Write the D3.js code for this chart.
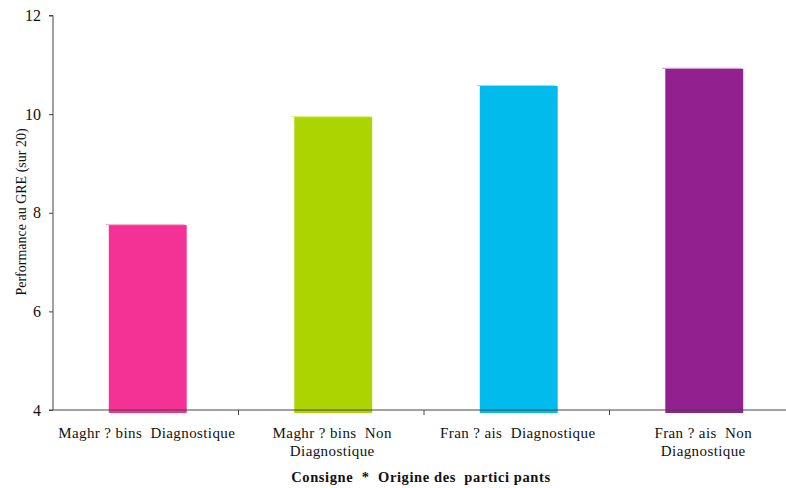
<!DOCTYPE html>
<html>
<head>
<meta charset="utf-8">
<script src="https://cdn.jsdelivr.net/npm/d3@7"></script>
<style>
  html, body { margin: 0; padding: 0; background: #fff; }
  svg { display: block; }
</style>
</head>
<body>
<svg id="chart" width="786" height="488"></svg>
<script>
// Mean GRE performance (out of 20) by instruction and participant origin
const categories = [
  ["Maghr ? bins  Diagnostique"],
  ["Maghr ? bins  Non", "Diagnostique"],
  ["Fran ? ais  Diagnostique"],
  ["Fran ? ais  Non", "Diagnostique"]
];
const values = [7.75, 9.94, 10.57, 10.92];
const colors = ["#F43195", "#ABD401", "#00BBEC", "#92208F"];
const capColors = ["#F9A6CF", "#D8EE7E", "#8BE0F7", "#C98FC6"];
const yTicks = [4, 6, 8, 10, 12];
const yTitle = "Performance au GRE (sur 20)";
const xTitle = "Consigne  *  Origine des  partici pants";

// pick the first installed serif face
function pickFont(list) {
  const ctx = document.createElement("canvas").getContext("2d");
  const sample = "Maghr bins Diagnostique 0123456789";
  ctx.font = "40px monospace";
  const base = ctx.measureText(sample).width;
  for (const f of list) {
    ctx.font = `40px "${f}", monospace`;
    if (Math.abs(ctx.measureText(sample).width - base) > 0.5) return `"${f}"`;
  }
  return "serif";
}
const serif = pickFont(["Liberation Serif", "Times New Roman", "Tinos", "DejaVu Serif", "Noto Serif"]) + ", serif";

const svg = d3.select("#chart")
  .attr("font-family", serif)
  .style("font-family", serif);
const left = 53, bottom = 410;

const x = d3.scaleBand()
  .domain(d3.range(categories.length))
  .range([left, 795])
  .paddingInner(0.58)
  .paddingOuter(0.29);

const y = d3.scaleLinear().domain([4, 12]).range([bottom, 15.5]);

// Bars
const bars = svg.append("g");
bars.selectAll("rect")
  .data(values)
  .join("rect")
  .attr("x", (d, i) => x(i) + 2)
  .attr("y", d => y(d))
  .attr("width", x.bandwidth())
  .attr("height", d => y(4) - y(d) + 3)
  .attr("fill", (d, i) => colors[i]);

// thin cap line on top of each bar
bars.selectAll("line")
  .data(values)
  .join("line")
  .attr("x1", (d, i) => x(i) - 1)
  .attr("x2", (d, i) => x(i) + x.bandwidth())
  .attr("y1", d => y(d) - 0.5)
  .attr("y2", d => y(d) - 0.5)
  .attr("stroke", (d, i) => capColors[i])
  .attr("stroke-width", 1);

// Y axis
const yAxis = svg.append("g")
  .attr("transform", `translate(${left},0)`)
  .call(d3.axisLeft(y).tickValues(yTicks).tickSize(4).tickPadding(8).tickFormat(d3.format("d")));
yAxis.attr("font-family", serif);
yAxis.select(".domain").attr("stroke", "#444").attr("d", `M-4,${y(12)}H0V${bottom}`);
yAxis.selectAll(".tick line").attr("stroke", "#444");
yAxis.selectAll(".tick text")
  .attr("font-family", serif)
  .style("font-family", serif)
  .style("font-size", "16px")
  .attr("fill", "#111");

// X axis
const xAxis = svg.append("g").attr("transform", `translate(0,${bottom})`);
xAxis.append("line")
  .attr("x1", left - 4).attr("x2", 786)
  .attr("y1", 0).attr("y2", 0)
  .attr("stroke", "#444");
const boundaries = d3.range(categories.length).map(i => x(i) - x.step() * x.paddingInner() / 2);
xAxis.selectAll(".xtick")
  .data(boundaries.slice(1))
  .join("line")
  .attr("x1", d => d).attr("x2", d => d)
  .attr("y1", 0).attr("y2", 5)
  .attr("stroke", "#444");

const labels = svg.append("g");
categories.forEach((lines, i) => {
  const cx = x(i) + x.bandwidth() / 2 + 1;
  const t = labels.append("text")
    .attr("x", cx)
    .attr("y", 438)
    .attr("text-anchor", "middle")
    .attr("fill", "#111")
    .style("font-family", serif)
    .style("font-size", "15px")
    .style("letter-spacing", "0.4px")
    .style("white-space", "pre");
  lines.forEach((ln, j) => {
    t.append("tspan")
      .attr("x", cx)
      .attr("dy", j === 0 ? 0 : 18)
      .text(ln);
  });
});

// Axis titles
svg.append("text")
  .attr("transform", `translate(26,${212}) rotate(-90)`)
  .attr("text-anchor", "middle")
  .attr("fill", "#111")
  .style("font-family", serif)
  .style("font-size", "14px")
  .text(yTitle);

svg.append("text")
  .attr("x", 421)
  .attr("y", 482)
  .attr("text-anchor", "middle")
  .attr("fill", "#111")
  .style("font-family", serif)
  .style("font-size", "14.5px")
  .style("font-weight", "bold")
  .style("letter-spacing", "0.6px")
  .style("white-space", "pre")
  .text(xTitle);
</script>
</body>
</html>
